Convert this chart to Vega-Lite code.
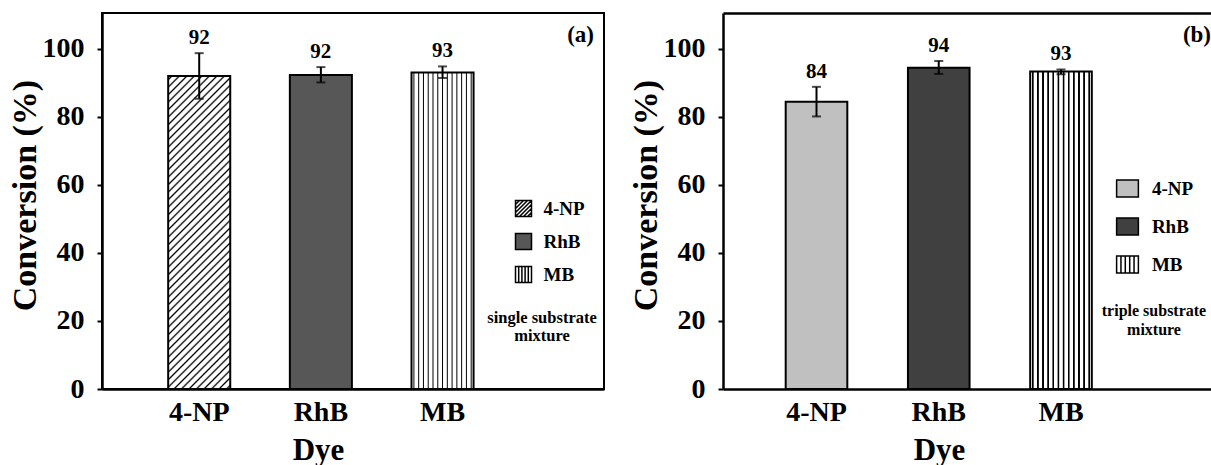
{
"$schema": "https://vega.github.io/schema/vega-lite/v6.json",
"background": "white",
"padding": {"left": 7, "top": 12, "right": 0, "bottom": 0},
"spacing": 24,
"resolve": {"scale": {"fill": "independent", "shape": "independent", "stroke": "independent"}, "legend": {"fill": "independent", "shape": "independent", "stroke": "independent"}},
"datasets": {
"a": [
{"dye": "4-NP", "conv": 92, "lo": 85.3, "hi": 98.7},
{"dye": "RhB", "conv": 92.3, "lo": 90.1, "hi": 94.6},
{"dye": "MB", "conv": 93, "lo": 91.4, "hi": 94.8}
],
"b": [
{"dye": "4-NP", "conv": 84.4, "lo": 80.1, "hi": 88.8},
{"dye": "RhB", "conv": 94.4, "lo": 92.6, "hi": 96.4},
{"dye": "MB", "conv": 93.3, "lo": 92.5, "hi": 93.9}
]
},
"hconcat": [
{
"width": 502, "height": 376,
"data": {"name": "a"},
"title": {"text": "(a)", "anchor": "end", "frame": "group", "offset": -52, "baseline": "alphabetic", "dx": -10, "fontSize": 23, "font": "Liberation Serif", "fontWeight": "bold", "color": "black"},
"layer": [
{
"transform": [{"filter": "false"}],
"mark": {"type": "point", "filled": true, "opacity": 1, "strokeWidth": 1.5},
"encoding": {
"fill": {"field": "dye", "type": "nominal", "scale": {"domain": ["4-NP", "RhB", "MB"], "range": ["#ffffff", "#575757", "#ffffff"]},
"legend": {"title": ["single substrate", "mixture"], "orient": "none", "legendX": 385, "legendY": 186, "titleOrient": "bottom", "titleAnchor": "middle", "titleAlign": "center", "titleFont": "Liberation Serif", "titleFontSize": 16.5, "titleFontWeight": "bold", "titleColor": "black", "titleLineHeight": 17.5, "titlePadding": 24, "titleLimit": 400, "symbolSize": 256, "symbolOffset": 15, "symbolStrokeWidth": 1.5, "labelFont": "Liberation Serif", "labelFontSize": 19, "labelFontWeight": "bold", "labelColor": "black", "labelOffset": 10.5, "rowPadding": 10, "padding": 0}},
"stroke": {"field": "dye", "type": "nominal", "scale": {"domain": ["4-NP", "RhB", "MB"], "range": ["#000000", "#000000", "#000000"]},
"legend": {"title": ["single substrate", "mixture"], "orient": "none", "legendX": 385, "legendY": 186, "titleOrient": "bottom", "titleAnchor": "middle", "titleAlign": "center", "titleFont": "Liberation Serif", "titleFontSize": 16.5, "titleFontWeight": "bold", "titleColor": "black", "titleLineHeight": 17.5, "titlePadding": 24, "titleLimit": 400, "symbolSize": 256, "symbolOffset": 15, "symbolStrokeWidth": 1.5, "labelFont": "Liberation Serif", "labelFontSize": 19, "labelFontWeight": "bold", "labelColor": "black", "labelOffset": 10.5, "rowPadding": 10, "padding": 0}},
"shape": {"field": "dye", "type": "nominal", "scale": {"domain": ["4-NP", "RhB", "MB"], "range": ["M-1,-1H1V1H-1Z M-1,-0.5L-0.5,-1 M-1,0L0,-1 M-1,0.5L0.5,-1 M-1,1L1,-1 M-0.5,1L1,-0.5 M0,1L1,0 M0.5,1L1,0.5", "square", "M-1,-1H1V1H-1Z M-0.6,-1V1 M-0.2,-1V1 M0.2,-1V1 M0.6,-1V1"]},
"legend": {"title": ["single substrate", "mixture"], "orient": "none", "legendX": 385, "legendY": 186, "titleOrient": "bottom", "titleAnchor": "middle", "titleAlign": "center", "titleFont": "Liberation Serif", "titleFontSize": 16.5, "titleFontWeight": "bold", "titleColor": "black", "titleLineHeight": 17.5, "titlePadding": 24, "titleLimit": 400, "symbolSize": 256, "symbolOffset": 15, "symbolStrokeWidth": 1.5, "labelFont": "Liberation Serif", "labelFontSize": 19, "labelFontWeight": "bold", "labelColor": "black", "labelOffset": 10.5, "rowPadding": 10, "padding": 0}}
}
},
{
"mark": {"type": "bar", "stroke": "black", "strokeWidth": 2},
"encoding": {
"x": {"field": "dye", "type": "nominal", "title": "Dye", "scale": {"type": "band", "domain": ["4-NP", "RhB", "MB"], "paddingInner": 0.49, "paddingOuter": 0.808, "align": 0.3366}, "axis": {"labelAngle": 0, "ticks": false, "tickSize": 0, "labelFontSize": 28, "labelPadding": 9, "titleFontSize": 31, "titlePadding": 9, "titleX": 216, "domainWidth": 2.5}},
"y": {"field": "conv", "type": "quantitative", "title": "Conversion (%)", "scale": {"domain": [0, 110.5], "nice": false}, "axis": {"values": [0, 20, 40, 60, 80, 100], "grid": false, "tickSize": 5, "tickWidth": 2, "domainWidth": 2.5, "labelFontSize": 28, "labelPadding": 13, "titleFontSize": 34, "titlePadding": 0, "titleY": 182}},
"fill": {"condition": [
{"test": "datum.dye === '4-NP'", "value": {"gradient": "linear", "x1": 0, "y1": 0, "x2": 0.2284, "y2": 1.1529, "stops": [
{"offset":0.0052,"color":"#fff"},{"offset":0.01,"color":"#000"},{"offset":0.0148,"color":"#fff"},
{"offset":0.0252,"color":"#fff"},{"offset":0.03,"color":"#000"},{"offset":0.0348,"color":"#fff"},
{"offset":0.0452,"color":"#fff"},{"offset":0.05,"color":"#000"},{"offset":0.0548,"color":"#fff"},
{"offset":0.0652,"color":"#fff"},{"offset":0.07,"color":"#000"},{"offset":0.0748,"color":"#fff"},
{"offset":0.0852,"color":"#fff"},{"offset":0.09,"color":"#000"},{"offset":0.0948,"color":"#fff"},
{"offset":0.1052,"color":"#fff"},{"offset":0.11,"color":"#000"},{"offset":0.1148,"color":"#fff"},
{"offset":0.1252,"color":"#fff"},{"offset":0.13,"color":"#000"},{"offset":0.1348,"color":"#fff"},
{"offset":0.1452,"color":"#fff"},{"offset":0.15,"color":"#000"},{"offset":0.1548,"color":"#fff"},
{"offset":0.1652,"color":"#fff"},{"offset":0.17,"color":"#000"},{"offset":0.1748,"color":"#fff"},
{"offset":0.1852,"color":"#fff"},{"offset":0.19,"color":"#000"},{"offset":0.1948,"color":"#fff"},
{"offset":0.2052,"color":"#fff"},{"offset":0.21,"color":"#000"},{"offset":0.2148,"color":"#fff"},
{"offset":0.2252,"color":"#fff"},{"offset":0.23,"color":"#000"},{"offset":0.2348,"color":"#fff"},
{"offset":0.2452,"color":"#fff"},{"offset":0.25,"color":"#000"},{"offset":0.2548,"color":"#fff"},
{"offset":0.2652,"color":"#fff"},{"offset":0.27,"color":"#000"},{"offset":0.2748,"color":"#fff"},
{"offset":0.2852,"color":"#fff"},{"offset":0.29,"color":"#000"},{"offset":0.2948,"color":"#fff"},
{"offset":0.3052,"color":"#fff"},{"offset":0.31,"color":"#000"},{"offset":0.3148,"color":"#fff"},
{"offset":0.3252,"color":"#fff"},{"offset":0.33,"color":"#000"},{"offset":0.3348,"color":"#fff"},
{"offset":0.3452,"color":"#fff"},{"offset":0.35,"color":"#000"},{"offset":0.3548,"color":"#fff"},
{"offset":0.3652,"color":"#fff"},{"offset":0.37,"color":"#000"},{"offset":0.3748,"color":"#fff"},
{"offset":0.3852,"color":"#fff"},{"offset":0.39,"color":"#000"},{"offset":0.3948,"color":"#fff"},
{"offset":0.4052,"color":"#fff"},{"offset":0.41,"color":"#000"},{"offset":0.4148,"color":"#fff"},
{"offset":0.4252,"color":"#fff"},{"offset":0.43,"color":"#000"},{"offset":0.4348,"color":"#fff"},
{"offset":0.4452,"color":"#fff"},{"offset":0.45,"color":"#000"},{"offset":0.4548,"color":"#fff"},
{"offset":0.4652,"color":"#fff"},{"offset":0.47,"color":"#000"},{"offset":0.4748,"color":"#fff"},
{"offset":0.4852,"color":"#fff"},{"offset":0.49,"color":"#000"},{"offset":0.4948,"color":"#fff"},
{"offset":0.5052,"color":"#fff"},{"offset":0.51,"color":"#000"},{"offset":0.5148,"color":"#fff"},
{"offset":0.5252,"color":"#fff"},{"offset":0.53,"color":"#000"},{"offset":0.5348,"color":"#fff"},
{"offset":0.5452,"color":"#fff"},{"offset":0.55,"color":"#000"},{"offset":0.5548,"color":"#fff"},
{"offset":0.5652,"color":"#fff"},{"offset":0.57,"color":"#000"},{"offset":0.5748,"color":"#fff"},
{"offset":0.5852,"color":"#fff"},{"offset":0.59,"color":"#000"},{"offset":0.5948,"color":"#fff"},
{"offset":0.6052,"color":"#fff"},{"offset":0.61,"color":"#000"},{"offset":0.6148,"color":"#fff"},
{"offset":0.6252,"color":"#fff"},{"offset":0.63,"color":"#000"},{"offset":0.6348,"color":"#fff"},
{"offset":0.6452,"color":"#fff"},{"offset":0.65,"color":"#000"},{"offset":0.6548,"color":"#fff"},
{"offset":0.6652,"color":"#fff"},{"offset":0.67,"color":"#000"},{"offset":0.6748,"color":"#fff"},
{"offset":0.6852,"color":"#fff"},{"offset":0.69,"color":"#000"},{"offset":0.6948,"color":"#fff"},
{"offset":0.7052,"color":"#fff"},{"offset":0.71,"color":"#000"},{"offset":0.7148,"color":"#fff"},
{"offset":0.7252,"color":"#fff"},{"offset":0.73,"color":"#000"},{"offset":0.7348,"color":"#fff"},
{"offset":0.7452,"color":"#fff"},{"offset":0.75,"color":"#000"},{"offset":0.7548,"color":"#fff"},
{"offset":0.7652,"color":"#fff"},{"offset":0.77,"color":"#000"},{"offset":0.7748,"color":"#fff"},
{"offset":0.7852,"color":"#fff"},{"offset":0.79,"color":"#000"},{"offset":0.7948,"color":"#fff"},
{"offset":0.8052,"color":"#fff"},{"offset":0.81,"color":"#000"},{"offset":0.8148,"color":"#fff"},
{"offset":0.8252,"color":"#fff"},{"offset":0.83,"color":"#000"},{"offset":0.8348,"color":"#fff"},
{"offset":0.8452,"color":"#fff"},{"offset":0.85,"color":"#000"},{"offset":0.8548,"color":"#fff"},
{"offset":0.8652,"color":"#fff"},{"offset":0.87,"color":"#000"},{"offset":0.8748,"color":"#fff"},
{"offset":0.8852,"color":"#fff"},{"offset":0.89,"color":"#000"},{"offset":0.8948,"color":"#fff"},
{"offset":0.9052,"color":"#fff"},{"offset":0.91,"color":"#000"},{"offset":0.9148,"color":"#fff"},
{"offset":0.9252,"color":"#fff"},{"offset":0.93,"color":"#000"},{"offset":0.9348,"color":"#fff"},
{"offset":0.9452,"color":"#fff"},{"offset":0.95,"color":"#000"},{"offset":0.9548,"color":"#fff"},
{"offset":0.9652,"color":"#fff"},{"offset":0.97,"color":"#000"},{"offset":0.9748,"color":"#fff"},
{"offset":0.9852,"color":"#fff"},{"offset":0.99,"color":"#000"},{"offset":0.9948,"color":"#fff"}
]}},
{"test": "datum.dye === 'RhB'", "value": "#575757"}
],
"value": {"gradient": "linear", "x1": 0, "y1": 0, "x2": 1, "y2": 0, "stops": [
{"offset":0.0225,"color":"#fff"},{"offset":0.0385,"color":"#000"},{"offset":0.0545,"color":"#fff"},
{"offset":0.0994,"color":"#fff"},{"offset":0.1154,"color":"#000"},{"offset":0.1314,"color":"#fff"},
{"offset":0.1763,"color":"#fff"},{"offset":0.1923,"color":"#000"},{"offset":0.2083,"color":"#fff"},
{"offset":0.2532,"color":"#fff"},{"offset":0.2692,"color":"#000"},{"offset":0.2852,"color":"#fff"},
{"offset":0.3302,"color":"#fff"},{"offset":0.3462,"color":"#000"},{"offset":0.3622,"color":"#fff"},
{"offset":0.4071,"color":"#fff"},{"offset":0.4231,"color":"#000"},{"offset":0.4391,"color":"#fff"},
{"offset":0.484,"color":"#fff"},{"offset":0.5,"color":"#000"},{"offset":0.516,"color":"#fff"},
{"offset":0.5609,"color":"#fff"},{"offset":0.5769,"color":"#000"},{"offset":0.5929,"color":"#fff"},
{"offset":0.6378,"color":"#fff"},{"offset":0.6538,"color":"#000"},{"offset":0.6698,"color":"#fff"},
{"offset":0.7148,"color":"#fff"},{"offset":0.7308,"color":"#000"},{"offset":0.7468,"color":"#fff"},
{"offset":0.7917,"color":"#fff"},{"offset":0.8077,"color":"#000"},{"offset":0.8237,"color":"#fff"},
{"offset":0.8686,"color":"#fff"},{"offset":0.8846,"color":"#000"},{"offset":0.9006,"color":"#fff"},
{"offset":0.9455,"color":"#fff"},{"offset":0.9615,"color":"#000"},{"offset":0.9775,"color":"#fff"}
]}}
}
},
{
"mark": {"type": "errorbar", "ticks": {"size": 9, "thickness": 2, "color": "black"}, "rule": {"strokeWidth": 2, "color": "black"}},
"encoding": {
"x": {"field": "dye", "type": "nominal", "title": "Dye"},
"y": {"field": "lo", "type": "quantitative", "title": "Conversion (%)"},
"y2": {"field": "hi"}
}
},
{
"mark": {"type": "text", "baseline": "alphabetic", "dy": -9, "fontSize": 21, "fontWeight": "bold", "font": "Liberation Serif", "color": "black"},
"encoding": {
"x": {"field": "dye", "type": "nominal", "title": "Dye"},
"y": {"field": "hi", "type": "quantitative", "title": "Conversion (%)"},
"text": {"field": "conv", "type": "quantitative", "format": ".0f"}
}
}
]
},
{
"width": 491, "height": 376,
"data": {"name": "b"},
"view": {"stroke": null},
"title": {"text": "(b)", "anchor": "end", "frame": "group", "offset": -52, "baseline": "alphabetic", "dx": -3, "fontSize": 23, "font": "Liberation Serif", "fontWeight": "bold", "color": "black"},
"resolve": {"axis": {"x": "independent"}},
"layer": [
{
"transform": [{"filter": "false"}],
"mark": {"type": "point", "filled": true, "opacity": 1, "strokeWidth": 1.5},
"encoding": {
"fill": {"field": "dye", "type": "nominal", "scale": {"domain": ["4-NP", "RhB", "MB"], "range": ["#c0c0c0", "#404040", "#ffffff"]},
"legend": {"title": ["triple substrate", "mixture"], "orient": "none", "legendX": 379, "legendY": 166, "titleOrient": "bottom", "titleAnchor": "middle", "titleAlign": "center", "titleFont": "Liberation Serif", "titleFontSize": 16, "titleFontWeight": "bold", "titleColor": "black", "titleLineHeight": 19, "titlePadding": 27, "titleLimit": 400, "symbolSize": 289, "symbolOffset": 3, "symbolStrokeWidth": 1.5, "labelFont": "Liberation Serif", "labelFontSize": 19, "labelFontWeight": "bold", "labelColor": "black", "labelOffset": 14.9, "rowPadding": 15, "padding": 0}},
"stroke": {"field": "dye", "type": "nominal", "scale": {"domain": ["4-NP", "RhB", "MB"], "range": ["#000000", "#000000", "#000000"]},
"legend": {"title": ["triple substrate", "mixture"], "orient": "none", "legendX": 379, "legendY": 166, "titleOrient": "bottom", "titleAnchor": "middle", "titleAlign": "center", "titleFont": "Liberation Serif", "titleFontSize": 16, "titleFontWeight": "bold", "titleColor": "black", "titleLineHeight": 19, "titlePadding": 27, "titleLimit": 400, "symbolSize": 289, "symbolOffset": 3, "symbolStrokeWidth": 1.5, "labelFont": "Liberation Serif", "labelFontSize": 19, "labelFontWeight": "bold", "labelColor": "black", "labelOffset": 14.9, "rowPadding": 15, "padding": 0}},
"shape": {"field": "dye", "type": "nominal", "scale": {"domain": ["4-NP", "RhB", "MB"], "range": ["M-1.28,-1H1.28V1H-1.28Z", "M-1.28,-1H1.28V1H-1.28Z", "M-1.28,-1H1.28V1H-1.28Z M-0.77,-1V1 M-0.26,-1V1 M0.26,-1V1 M0.77,-1V1"]},
"legend": {"title": ["triple substrate", "mixture"], "orient": "none", "legendX": 379, "legendY": 166, "titleOrient": "bottom", "titleAnchor": "middle", "titleAlign": "center", "titleFont": "Liberation Serif", "titleFontSize": 16, "titleFontWeight": "bold", "titleColor": "black", "titleLineHeight": 19, "titlePadding": 27, "titleLimit": 400, "symbolSize": 289, "symbolOffset": 3, "symbolStrokeWidth": 1.5, "labelFont": "Liberation Serif", "labelFontSize": 19, "labelFontWeight": "bold", "labelColor": "black", "labelOffset": 14.9, "rowPadding": 15, "padding": 0}}
}
},
{
"mark": {"type": "bar", "stroke": "black", "strokeWidth": 2},
"encoding": {
"x": {"field": "dye", "type": "nominal", "title": "Dye", "scale": {"type": "band", "domain": ["4-NP", "RhB", "MB"], "paddingInner": 0.496, "paddingOuter": 0.7562, "align": 0.3391}, "axis": {"labelAngle": 0, "ticks": false, "tickSize": 0, "labelFontSize": 28, "labelPadding": 9, "titleFontSize": 31, "titlePadding": 9, "titleX": 216, "domainWidth": 2.5}},
"y": {"field": "conv", "type": "quantitative", "title": "Conversion (%)", "scale": {"domain": [0, 110.5], "nice": false}, "axis": {"values": [0, 20, 40, 60, 80, 100], "grid": false, "tickSize": 5, "tickWidth": 2, "domainWidth": 2.5, "labelFontSize": 28, "labelPadding": 13, "titleFontSize": 34, "titlePadding": 0, "titleY": 182}},
"fill": {"condition": [
{"test": "datum.dye === '4-NP'", "value": "#c0c0c0"},
{"test": "datum.dye === 'RhB'", "value": "#404040"}
],
"value": {"gradient": "linear", "x1": 0, "y1": 0, "x2": 1, "y2": 0, "stops": [
{"offset":0.0222,"color":"#fff"},{"offset":0.0336,"color":"#000"},{"offset":0.0498,"color":"#000"},{"offset":0.0612,"color":"#fff"},
{"offset":0.1055,"color":"#fff"},{"offset":0.1169,"color":"#000"},{"offset":0.1331,"color":"#000"},{"offset":0.1445,"color":"#fff"},
{"offset":0.1888,"color":"#fff"},{"offset":0.2002,"color":"#000"},{"offset":0.2164,"color":"#000"},{"offset":0.2278,"color":"#fff"},
{"offset":0.2722,"color":"#fff"},{"offset":0.2836,"color":"#000"},{"offset":0.2998,"color":"#000"},{"offset":0.3112,"color":"#fff"},
{"offset":0.3555,"color":"#fff"},{"offset":0.3669,"color":"#000"},{"offset":0.3831,"color":"#000"},{"offset":0.3945,"color":"#fff"},
{"offset":0.4388,"color":"#fff"},{"offset":0.4502,"color":"#000"},{"offset":0.4664,"color":"#000"},{"offset":0.4778,"color":"#fff"},
{"offset":0.5222,"color":"#fff"},{"offset":0.5336,"color":"#000"},{"offset":0.5498,"color":"#000"},{"offset":0.5612,"color":"#fff"},
{"offset":0.6055,"color":"#fff"},{"offset":0.6169,"color":"#000"},{"offset":0.6331,"color":"#000"},{"offset":0.6445,"color":"#fff"},
{"offset":0.6888,"color":"#fff"},{"offset":0.7002,"color":"#000"},{"offset":0.7164,"color":"#000"},{"offset":0.7278,"color":"#fff"},
{"offset":0.7722,"color":"#fff"},{"offset":0.7836,"color":"#000"},{"offset":0.7998,"color":"#000"},{"offset":0.8112,"color":"#fff"},
{"offset":0.8555,"color":"#fff"},{"offset":0.8669,"color":"#000"},{"offset":0.8831,"color":"#000"},{"offset":0.8945,"color":"#fff"},
{"offset":0.9388,"color":"#fff"},{"offset":0.9502,"color":"#000"},{"offset":0.9664,"color":"#000"},{"offset":0.9778,"color":"#fff"}
]}}
}
},
{
"mark": {"type": "errorbar", "ticks": {"size": 9, "thickness": 2, "color": "black"}, "rule": {"strokeWidth": 2, "color": "black"}},
"encoding": {
"x": {"field": "dye", "type": "nominal", "title": "Dye", "axis": null},
"y": {"field": "lo", "type": "quantitative", "title": "Conversion (%)"},
"y2": {"field": "hi"}
}
},
{
"mark": {"type": "text", "baseline": "alphabetic", "dy": -9, "fontSize": 21, "fontWeight": "bold", "font": "Liberation Serif", "color": "black"},
"encoding": {
"x": {"field": "dye", "type": "nominal", "title": "Dye", "axis": {"orient": "top", "labels": false, "ticks": false, "title": null, "grid": false, "domainWidth": 2.5, "domainColor": "black"}},
"y": {"field": "hi", "type": "quantitative", "title": "Conversion (%)"},
"text": {"field": "conv", "type": "quantitative", "format": ".0f"}
}
}
]
}
],
"config": {
"font": "Liberation Serif",
"view": {"stroke": "black", "strokeWidth": 2},
"axis": {"labelFont": "Liberation Serif", "labelFontWeight": "bold", "labelColor": "black", "titleFont": "Liberation Serif", "titleFontWeight": "bold", "titleColor": "black", "domainColor": "black", "tickColor": "black", "grid": false}
}
}
